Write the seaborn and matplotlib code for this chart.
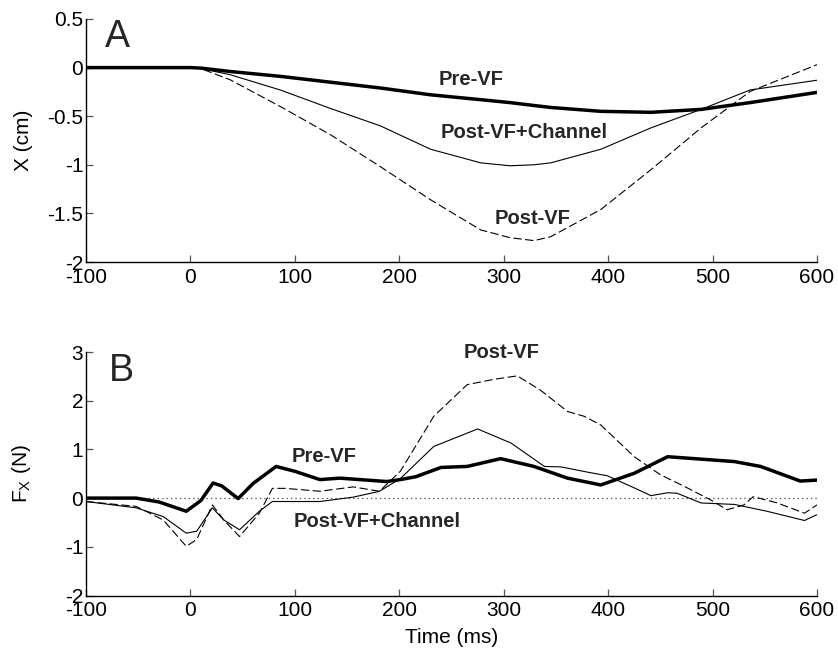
import numpy as np
import pandas as pd
import matplotlib
matplotlib.use("Agg")
import matplotlib.pyplot as plt
import seaborn as sns

# ---------------- data ----------------
# Panel A: hand position X (cm)
tA = [-100, -50, 0, 10, 38, 86, 134, 182, 230, 278, 306, 329, 345, 393, 441, 489, 536, 600]
xA_pre = [0, 0, 0, -0.005, -0.04, -0.09, -0.15, -0.21, -0.28, -0.33, -0.36, -0.39, -0.41, -0.45, -0.46, -0.43, -0.36, -0.255]
xA_chan = [0, 0, 0, -0.01, -0.073, -0.23, -0.42, -0.60, -0.84, -0.98, -1.01, -1.00, -0.98, -0.84, -0.62, -0.43, -0.23, -0.13]
xA_post = [0, 0, 0, -0.01, -0.125, -0.40, -0.69, -1.02, -1.36, -1.67, -1.75, -1.78, -1.74, -1.46, -1.05, -0.62, -0.245, 0.03]

# Panel B: force Fx (N)
tB_pre = [-100, -52, -30, -4, 10, 21.7, 30, 45.7, 60, 82, 100, 124, 143, 188, 201, 216, 240, 265,
          297, 329, 361, 393, 425, 457, 489, 521, 546, 584, 600]
fB_pre = [0, 0, -0.08, -0.27, -0.05, 0.31, 0.25, -0.01, 0.30, 0.65, 0.55, 0.38, 0.41, 0.34, 0.38, 0.44, 0.63, 0.65,
          0.81, 0.65, 0.41, 0.27, 0.51, 0.85, 0.80, 0.75, 0.65, 0.35, 0.37]

tB_chan = [-100, -52, -26, -4, 6, 21, 32, 47, 66, 78.5, 100, 124, 156, 181, 201, 233, 275, 307, 339, 355,
           381, 399, 425, 441, 457, 466, 489, 521, 552, 588, 600]
fB_chan = [-0.07, -0.20, -0.38, -0.72, -0.68, -0.20, -0.45, -0.65, -0.27, -0.07, -0.07, -0.07, 0.02, 0.14, 0.40, 1.06, 1.42, 1.13, 0.65, 0.64,
           0.53, 0.46, 0.21, 0.05, 0.11, 0.10, -0.10, -0.13, -0.27, -0.46, -0.34]

tB_post = [-100, -52, -26, -4, 6, 21, 32, 47, 66, 78.5, 91, 124, 156, 181, 201, 233, 265, 291, 313, 335,
           361, 377, 393, 425, 450, 473, 498, 514, 530, 539, 562, 588, 600]
fB_post = [-0.07, -0.17, -0.45, -0.99, -0.85, -0.14, -0.45, -0.79, -0.31, 0.20, 0.20, 0.14, 0.23, 0.14, 0.55, 1.68, 2.33, 2.44, 2.51, 2.22,
           1.78, 1.68, 1.50, 0.85, 0.48, 0.24, -0.035, -0.24, -0.14, 0.03, -0.10, -0.31, -0.14]

x_ticks = [-100, 0, 100, 200, 300, 400, 500, 600]
yA_ticks = [-2, -1.5, -1, -0.5, 0, 0.5]
yA_ticklabels = ["-2", "-1.5", "-1", "-0.5", "0", "0.5"]
yB_ticks = [-2, -1, 0, 1, 2, 3]
yB_ticklabels = ["-2", "-1", "0", "1", "2", "3"]

labelsA = [("Pre-VF", 269, -0.125), ("Post-VF+Channel", 320, -0.67), ("Post-VF", 328, -1.55)]
labelsB = [("Post-VF", 298, 2.98), ("Pre-VF", 128, 0.85), ("Post-VF+Channel", 179, -0.48)]

# ---------------- style ----------------
sns.set_theme(style="ticks")
plt.rcParams['font.family'] = ['Liberation Sans', 'DejaVu Sans']
plt.rcParams['lines.scale_dashes'] = False
plt.rcParams['mathtext.fontset'] = 'custom'
plt.rcParams['mathtext.rm'] = 'Liberation Sans'

fig = plt.figure(figsize=(8.38, 6.51), dpi=100)
axA = fig.add_axes([86 / 838, (651 - 262) / 651, 731 / 838, 243 / 651])
axB = fig.add_axes([86 / 838, (651 - 595.5) / 651, 731 / 838, 243.5 / 651])

THICK = 2.5
THIN = 0.8
DASH = (0, (6, 2.5))


def draw(ax, t, v, lw, ls="-"):
    sns.lineplot(x=t, y=v, ax=ax, color="black", linewidth=lw, linestyle=ls,
                 estimator=None, sort=False, legend=False)


# Panel A
draw(axA, tA, xA_post, THIN, DASH)
draw(axA, tA, xA_chan, THIN)
draw(axA, tA, xA_pre, THICK)

# Panel B
axB.plot([-100, 600], [0, 0], color="#555555", linewidth=0.9, linestyle=(0, (1, 2.2)))
draw(axB, tB_post, fB_post, THIN, DASH)
draw(axB, tB_chan, fB_chan, THIN)
draw(axB, tB_pre, fB_pre, THICK)

for ax, yt, ytl, ylim in [(axA, yA_ticks, yA_ticklabels, (-2, 0.5)),
                          (axB, yB_ticks, yB_ticklabels, (-2, 3))]:
    ax.set_xlim(-100, 600)
    ax.set_ylim(*ylim)
    ax.set_xticks(x_ticks)
    ax.set_xticklabels([str(v) for v in x_ticks])
    ax.set_yticks(yt)
    ax.set_yticklabels(ytl)
    for s in ["top", "right"]:
        ax.spines[s].set_visible(False)
    for s in ["left", "bottom"]:
        ax.spines[s].set_color("black")
        ax.spines[s].set_linewidth(1.0)
    ax.tick_params(direction="in", length=5, width=0.9, color="#555555",
                   labelsize=15, labelcolor="black")
    ax.tick_params(axis="x", pad=4)
    ax.tick_params(axis="y", pad=2)
    ax.set_facecolor("white")

axA.set_xlabel("")
axA.set_ylabel("X (cm)", fontsize=15, color="black")
axA.yaxis.set_label_coords(-0.072, 0.5)
axB.set_ylabel(r"F$_\mathregular{X}$ (N)", fontsize=15, color="black")
axB.yaxis.set_label_coords(-0.072, 0.5)
axB.set_xlabel("Time (ms)", fontsize=15, color="black")
axB.xaxis.set_label_coords(0.5, -0.135)

axA.text(0.026, 0.885, "A", transform=axA.transAxes, fontsize=27, va="baseline", ha="left")
axB.text(0.031, 0.881, "B", transform=axB.transAxes, fontsize=27, va="baseline", ha="left")

for txt, x, y in labelsA:
    axA.text(x, y, txt, fontsize=14.5, fontweight="bold", ha="center", va="center")
for txt, x, y in labelsB:
    axB.text(x, y, txt, fontsize=14.5, fontweight="bold", ha="center", va="center")

fig.patch.set_facecolor("white")
fig.savefig("out.png", dpi=100, facecolor="white")
